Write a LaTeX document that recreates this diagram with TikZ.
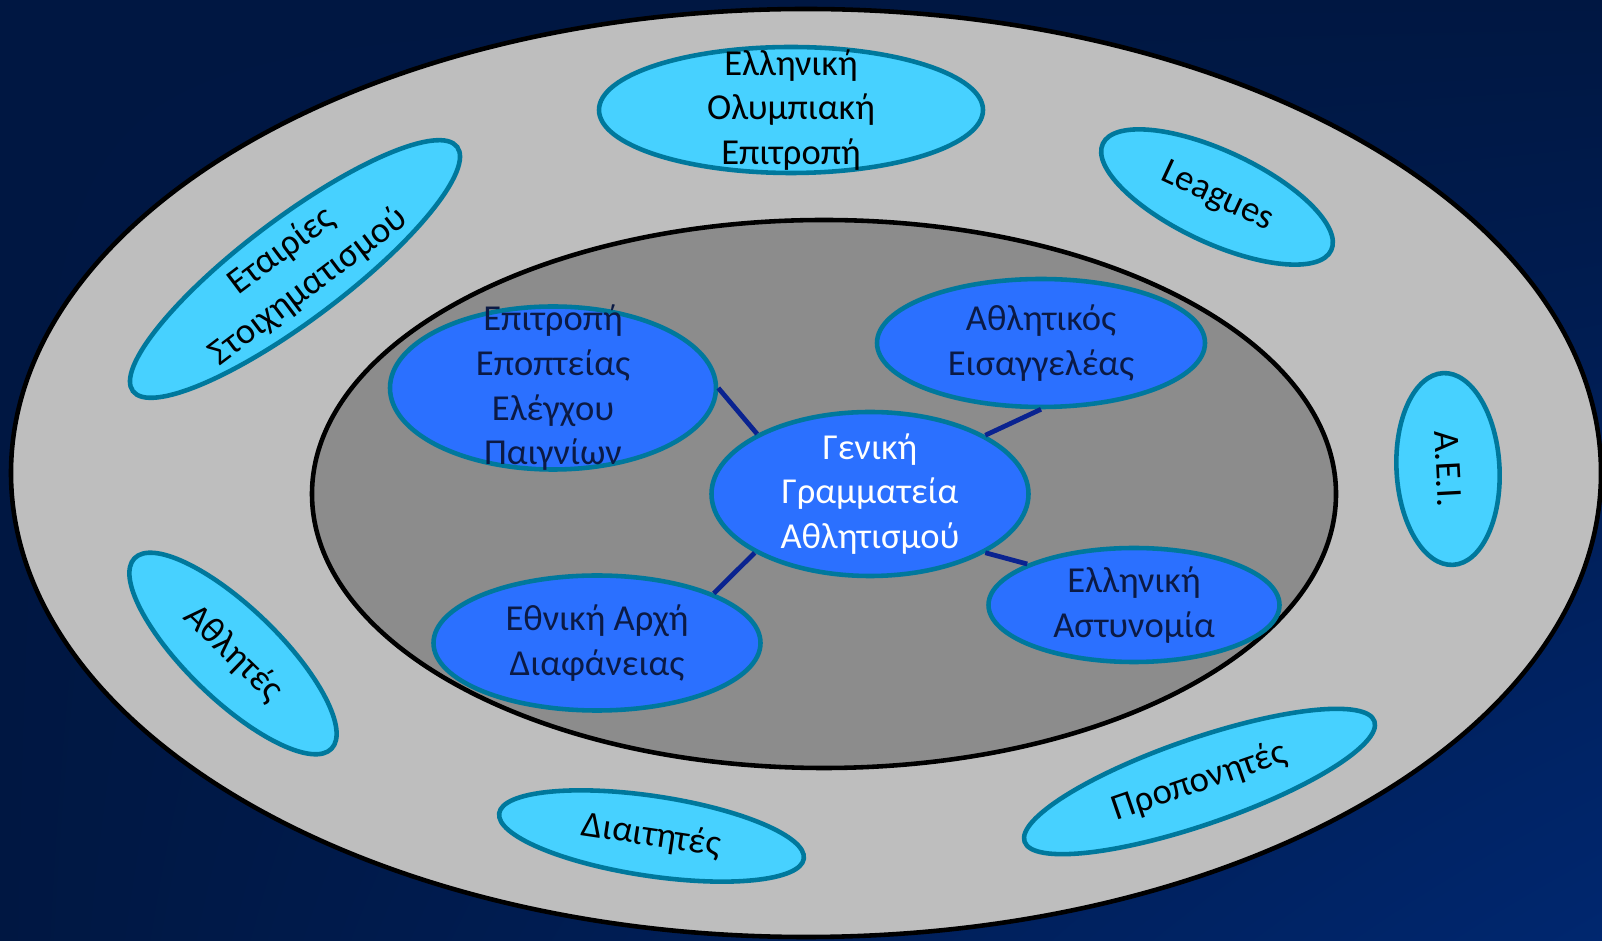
\documentclass[tikz,border=0pt]{standalone}
\usepackage{fontspec}
\setmainfont{Carlito}
\usetikzlibrary{shapes.geometric, shadings}
\definecolor{bgdark}{HTML}{001742}
\definecolor{bglight}{HTML}{00276F}
\definecolor{ringgray}{HTML}{BEBEBE}
\definecolor{coregray}{HTML}{8C8C8C}
\definecolor{lightblue}{HTML}{47D1FF}
\definecolor{midblue}{HTML}{2B70FF}
\definecolor{tealline}{HTML}{00789C}
\definecolor{navytext}{HTML}{0B1A45}
\definecolor{linkblue}{HTML}{0A2390}

\begin{document}
\begin{tikzpicture}
	\tikzstyle{Outer} = [ellipse, draw=tealline, line width=1.3pt, fill=lightblue, inner sep=-5mm, text=black, align=center, font=\fontsize{10.4}{12.7}\selectfont]
	\tikzstyle{Inner} = [Outer, fill=midblue, text=navytext]
	\tikzstyle{link} = [line width=1.35pt, draw=linkblue]
	
	\useasboundingbox (0,0) rectangle (16.02,9.41);
	\shade [upper left=bgdark, upper right=bgdark, lower left=bgdark, lower right=bglight] (0,0) rectangle (16.02,9.41);
	\draw [line width=1.3pt, black, fill=ringgray] (8.06,4.68) ellipse [x radius=7.95, y radius=4.64];
	\draw [line width=1.3pt, black, fill=coregray] (8.24,4.47) ellipse [x radius=5.12, y radius=2.74];
	
	% outer ring
	\node (olymp) [Outer, minimum width=3.84cm, minimum height=1.26cm] at (7.91,8.31) {Ελληνική\\Ολυμπιακή\\Επιτροπή};
	\node (leagues) [Outer, rotate=-25, minimum width=2.52cm, minimum height=0.92cm] at (12.17,7.44) {Leagues};
	\node (betting) [Outer, rotate=37, minimum width=4.06cm, minimum height=1.02cm] at (2.95,6.72) {Εταιρίες\\Στοιχηματισμού};
	\node (aei) [Outer, rotate=-87, minimum width=1.92cm, minimum height=1.03cm] at (14.48,4.72) {Α.Ε.Ι.};
	\node (athletes) [Outer, rotate=-44, minimum width=2.74cm, minimum height=0.92cm] at (2.33,2.875) {Αθλητές};
	\node (referees) [Outer, rotate=-8.5, minimum width=3.08cm, minimum height=0.80cm] at (6.515,1.05) {Διαιτητές};
	\node (coaches) [Outer, rotate=19, minimum width=3.70cm, minimum height=0.86cm] at (11.995,1.595) {Προπονητές};
	
	% inner core
	\node (ggas) [Inner, text=white, minimum width=3.17cm, minimum height=1.64cm] at (8.70,4.47) {Γενική\\Γραμματεία\\Αθλητισμού};
	\node (eeep) [Inner, minimum width=3.26cm, minimum height=1.63cm] at (5.53,5.53) {Επιτροπή\\Εποπτείας\\Ελέγχου\\Παιγνίων};
	\node (eis) [Inner, minimum width=3.28cm, minimum height=1.28cm] at (10.41,5.98) {Αθλητικός\\Εισαγγελέας};
	\node (ead) [Inner, minimum width=3.27cm, minimum height=1.35cm] at (5.97,2.98) {Εθνική Αρχή\\Διαφάνειας};
	\node (police) [Inner, minimum width=2.91cm, minimum height=1.14cm] at (11.34,3.36) {Ελληνική\\Αστυνομία};
	
	\draw [link] (ggas.152) -- (eeep.0);
	\draw [link] (ggas.27) -- (eis.south);
	\draw [link] (ggas.-27) -- (police.159);
	\draw [link] (ggas.207) -- (ead.23);
\end{tikzpicture}
\end{document}
